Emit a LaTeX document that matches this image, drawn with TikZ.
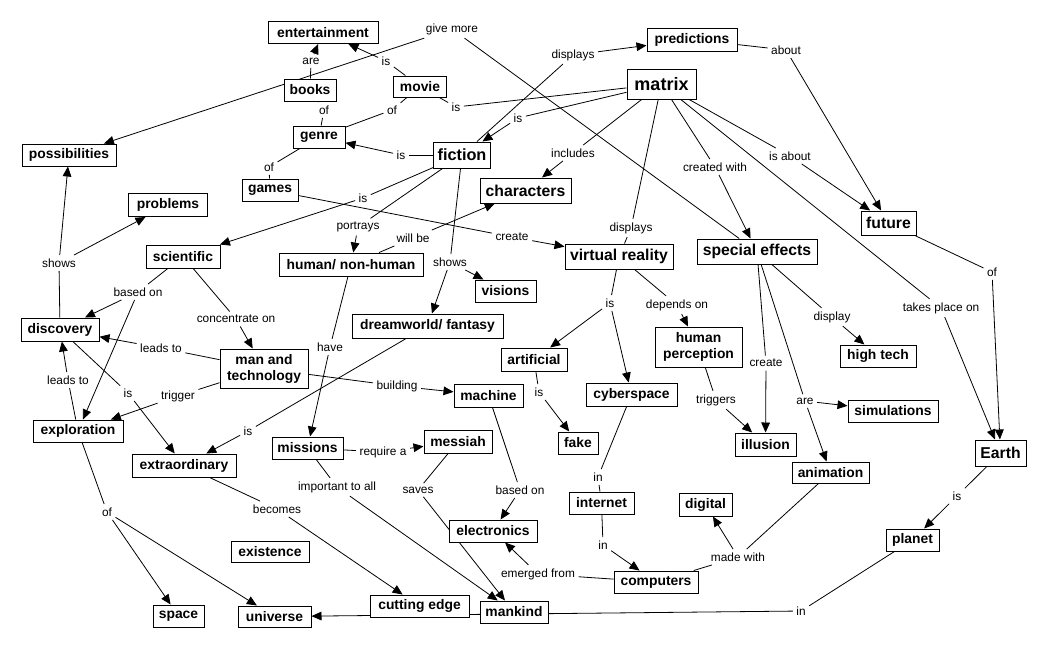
\documentclass[tikz,border=0pt]{standalone}
\usepackage{fontspec}
\setmainfont{Liberation Sans}
\usetikzlibrary{arrows.meta,backgrounds}
\begin{document}
\begin{tikzpicture}[x=0.75pt,y=-0.75pt,
  cn/.style={draw, line width=0.75pt, fill=white, inner sep=0pt, font=\fontsize{10.4}{12}\selectfont\bfseries, minimum height=16.5pt},
  big/.style={font=\fontsize{11.8}{13}\selectfont\bfseries},
  bw/.style={minimum width=#1*0.75pt},
  bh/.style={minimum height=#1*0.75pt},
  lk/.style={inner sep=2.5pt, font=\fontsize{8.9}{10}\selectfont},
  ln/.style={line width=0.6pt},
  ar/.style={line width=0.6pt, -{Triangle[length=7.5pt,width=6.5pt]}},
]
\useasboundingbox (0,0) rectangle (1045,647);
% concepts
\node[cn,bw=110,bh=22] (ent) at (323,32.5) {entertainment};
\node[cn,bw=52] (books) at (310,90) {books};
\node[cn,bw=53,bh=21] (movie) at (420,86.5) {movie};
\node[cn,bw=52] (genre) at (319,137) {genre};
\node[cn,bw=57,bh=26,font=\fontsize{12.2}{14}\selectfont\bfseries] (fiction) at (462,155) {fiction};
\node[cn,bw=94] (poss) at (69,155) {possibilities};
\node[cn,bw=56] (games) at (270,190) {games};
\node[cn,bw=79,bh=23] (problems) at (168,205) {problems};
\node[cn,bw=90,bh=23] (pred) at (692,39.5) {predictions};
\node[cn,bw=69,bh=30,font=\fontsize{13.5}{15}\selectfont\bfseries] (matrix) at (661.5,84) {matrix};
\node[cn,bw=91,bh=25,big] (char) at (525.5,190.5) {characters};
\node[cn,bw=55,bh=24,big] (future) at (888.5,223) {future};
\node[cn,bw=74,bh=23] (sci) at (183,256.5) {scientific};
\node[cn,bw=144,bh=23] (human) at (351,264.5) {human/ non-human};
\node[cn,bw=108,bh=25,big] (vr) at (619,256.5) {virtual reality};
\node[cn,bw=120,bh=25,big] (se) at (757,251.5) {special effects};
\node[cn,bw=61] (visions) at (505.5,291) {visions};
\node[cn,bw=78,bh=23] (disc) at (60,329.5) {discovery};
\node[cn,bw=151,bh=24] (dream) at (427.5,326) {dreamworld/ fantasy};
\node[cn,bw=88,bh=39,align=center] (mt) at (264,368.5) {man and\\technology};
\node[cn,bw=66,bh=23] (art) at (534,359.5) {artificial};
\node[cn,bw=87,bh=40,align=center] (hp) at (698.5,347) {human\\perception};
\node[cn,bw=76] (ht) at (878,356) {high tech};
\node[cn,bw=69,bh=23] (machine) at (488.5,395.5) {machine};
\node[cn,bw=91,bh=23] (cyber) at (631.5,394.5) {cyberspace};
\node[cn,bw=90] (sim) at (893,411) {simulations};
\node[cn,bw=90] (expl) at (78,431) {exploration};
\node[cn,bw=104,bh=23] (extra) at (184,465.5) {extraordinary};
\node[cn,bw=71] (missions) at (307.5,448) {missions};
\node[cn,bw=68,bh=23] (messiah) at (458,441.5) {messiah};
\node[cn,bw=40] (fake) at (578,443) {fake};
\node[cn,bw=61,bh=23] (illusion) at (765.5,444.5) {illusion};
\node[cn,bw=77,bh=21] (anim) at (830.5,472.5) {animation};
\node[cn,bw=51,bh=26,big] (earth) at (1000.5,453) {Earth};
\node[cn,bw=53,bh=23] (digital) at (705.5,504.5) {digital};
\node[cn,bw=65] (internet) at (601.5,503) {internet};
\node[cn,bw=88] (elec) at (493,531) {electronics};
\node[cn,bw=78,bh=21] (exist) at (270,551.5) {existence};
\node[cn,bw=53] (planet) at (912.5,540) {planet};
\node[cn,bw=84] (comp) at (656,582) {computers};
\node[cn,bw=51] (space) at (178.5,616) {space};
\node[cn,bw=73,bh=21] (univ) at (274.5,616.5) {universe};
\node[cn,bw=99] (cut) at (419.5,606) {cutting edge};
\node[cn,bw=68] (mankind) at (514,612) {mankind};
% link labels
\node[lk] (givemore) at (452,29) {give more};
\node[lk] (are1) at (311,61) {are};
\node[lk] (is1) at (386,61) {is};
\node[lk] (of1) at (324,110) {of};
\node[lk] (of2) at (392,110) {of};
\node[lk] (is2) at (456,107) {is};
\node[lk] (is3) at (518,118) {is};
\node[lk] (disp1) at (573,55) {displays};
\node[lk] (about) at (786,50) {about};
\node[lk] (is4) at (401,155) {is};
\node[lk] (of3) at (269,167) {of};
\node[lk] (incl) at (573,153) {includes};
\node[lk] (crw) at (715,167) {created with};
\node[lk] (isab) at (790,156) {is about};
\node[lk] (is5) at (363,198) {is};
\node[lk] (portr) at (358,227) {portrays};
\node[lk] (willbe) at (413,238) {will be};
\node[lk] (create1) at (512,237) {create};
\node[lk] (disp2) at (631,228) {displays};
\node[lk] (shows1) at (59,263) {shows};
\node[lk] (shows2) at (450,262) {shows};
\node[lk] (based1) at (138,292) {based on};
\node[lk] (conc) at (236,319) {concentrate on};
\node[lk] (is6) at (610,303) {is};
\node[lk] (dep) at (677,305) {depends on};
\node[lk] (displ) at (832,317) {display};
\node[lk] (takes) at (941,308) {takes place on};
\node[lk] (of4) at (992,272) {of};
\node[lk] (leads1) at (161,348) {leads to};
\node[lk] (have) at (330,347) {have};
\node[lk] (create2) at (766,363) {create};
\node[lk] (leads2) at (68,380) {leads to};
\node[lk] (is7) at (128,393) {is};
\node[lk] (trig) at (178,396) {trigger};
\node[lk] (build) at (397,386) {building};
\node[lk] (is8) at (539,392) {is};
\node[lk] (trigs) at (716,400) {triggers};
\node[lk] (are2) at (805,401) {are};
\node[lk] (is9) at (248,431) {is};
\node[lk] (req) at (383,452) {require a};
\node[lk] (imp) at (337,487) {important to all};
\node[lk] (saves) at (418,490) {saves};
\node[lk] (based2) at (520,490) {based on};
\node[lk] (in1) at (598,477) {in};
\node[lk] (becomes) at (277,509) {becomes};
\node[lk] (of5) at (107,512) {of};
\node[lk] (is10) at (957,496) {is};
\node[lk] (in2) at (603,545) {in};
\node[lk] (madew) at (738,557) {made with};
\node[lk] (emerg) at (538,574) {emerged from};
\node[lk] (in3) at (801,611) {in};
% connectors
\begin{scope}[on background layer]
\fill[white] (0,0) rectangle (1045,647);
\draw[ln] (se) -- (givemore); \draw[ar] (givemore) -- (poss);
\draw[ln] (books) -- (are1); \draw[ar] (are1) -- (ent);
\draw[ln] (movie) -- (is1); \draw[ar] (is1) -- (ent);
\draw[ln] (books) -- (of1); \draw[ln] (of1) -- (genre);
\draw[ln] (movie) -- (of2); \draw[ln] (of2) -- (genre);
\draw[ln] (movie) -- (is2); \draw[ln] (is2) -- (matrix);
\draw[ln] (matrix) -- (is3); \draw[ar] (is3) -- (fiction);
\draw[ln] (fiction) -- (disp1); \draw[ar] (disp1) -- (pred);
\draw[ln] (pred) -- (about); \draw[ar] (about) -- (future);
\draw[ln] (fiction) -- (is4); \draw[ar] (is4) -- (genre);
\draw[ln] (genre) -- (of3); \draw[ln] (of3) -- (games);
\draw[ln] (matrix) -- (incl); \draw[ar] (incl) -- (char);
\draw[ln] (matrix) -- (crw); \draw[ar] (crw) -- (se);
\draw[ln] (matrix) -- (isab); \draw[ar] (isab) -- (future);
\draw[ln] (fiction) -- (is5); \draw[ar] (is5) -- (sci);
\draw[ln] (fiction) -- (portr); \draw[ar] (portr) -- (human);
\draw[ln] (human) -- (willbe); \draw[ar] (willbe) -- (char);
\draw[ln] (games) -- (create1); \draw[ar] (create1) -- (vr);
\draw[ln] (matrix) -- (disp2); \draw[ln] (disp2) -- (vr);
\draw[ln] (disc) -- (shows1); \draw[ar] (shows1) -- (poss); \draw[ar] (shows1) -- (problems);
\draw[ln] (fiction) -- (shows2); \draw[ar] (shows2) -- (visions); \draw[ar] (shows2) -- (dream);
\draw[ln] (sci) -- (based1); \draw[ar] (based1) -- (disc); \draw[ar] (based1) -- (expl);
\draw[ln] (sci) -- (conc); \draw[ar] (conc) -- (mt);
\draw[ln] (vr) -- (is6); \draw[ar] (is6) -- (art); \draw[ar] (is6) -- (cyber);
\draw[ln] (vr) -- (dep); \draw[ar] (dep) -- (hp);
\draw[ln] (se) -- (displ); \draw[ar] (displ) -- (ht);
\draw[ln] (matrix) -- (takes); \draw[ar] (takes) -- (earth);
\draw[ln] (future) -- (of4); \draw[ar] (of4) -- (earth);
\draw[ln] (mt) -- (leads1); \draw[ar] (leads1) -- (disc);
\draw[ln] (human) -- (have); \draw[ar] (have) -- (missions);
\draw[ln] (se) -- (create2); \draw[ar] (create2) -- (illusion);
\draw[ln] (expl) -- (leads2); \draw[ar] (leads2) -- (disc);
\draw[ln] (disc) -- (is7); \draw[ar] (is7) -- (extra);
\draw[ln] (mt) -- (trig); \draw[ar] (trig) -- (expl);
\draw[ln] (mt) -- (build); \draw[ar] (build) -- (machine);
\draw[ln] (art) -- (is8); \draw[ar] (is8) -- (fake);
\draw[ln] (hp) -- (trigs); \draw[ar] (trigs) -- (illusion);
\draw[ln] (se) -- (are2); \draw[ar] (are2) -- (sim); \draw[ar] (are2) -- (anim);
\draw[ln] (dream) -- (is9); \draw[ar] (is9) -- (extra);
\draw[ln] (missions) -- (req); \draw[ar] (req) -- (messiah);
\draw[ln] (missions) -- (imp); \draw[ar] (imp) -- (mankind);
\draw[ln] (messiah) -- (saves); \draw[ar] (saves) -- (mankind);
\draw[ln] (machine) -- (based2); \draw[ar] (based2) -- (elec);
\draw[ln] (cyber) -- (in1); \draw[ln] (in1) -- (internet);
\draw[ln] (extra) -- (becomes); \draw[ar] (becomes) -- (cut);
\draw[ln] (expl) -- (of5); \draw[ar] (of5) -- (space); \draw[ar] (of5) -- (univ);
\draw[ln] (earth) -- (is10); \draw[ar] (is10) -- (planet);
\draw[ln] (internet) -- (in2); \draw[ar] (in2) -- (comp);
\draw[ln] (anim) -- (madew); \draw[ar] (madew) -- (digital); \draw[ln] (comp) -- (madew);
\draw[ln] (comp) -- (emerg); \draw[ar] (emerg) -- (elec);
\draw[ln] (planet) -- (in3); \draw[ar] (in3) -- (univ);
\end{scope}
\end{tikzpicture}
\end{document}
